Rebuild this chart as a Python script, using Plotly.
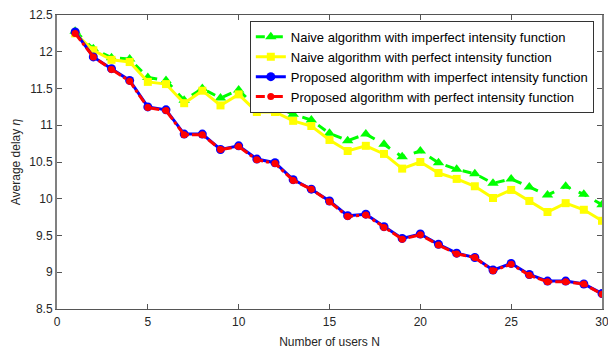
import plotly.graph_objects as go

users = list(range(1, 31))

naive_imperfect = [12.28, 12.04, 11.92, 11.90, 11.65, 11.61, 11.34, 11.50, 11.37, 11.48,
                   11.24, 11.26, 11.15, 11.07, 10.89, 10.79, 10.88, 10.74, 10.57, 10.65,
                   10.49, 10.40, 10.34, 10.21, 10.27, 10.16, 10.05, 10.17, 10.06, 9.92]
naive_perfect = [12.25, 12.02, 11.89, 11.86, 11.59, 11.56, 11.30, 11.47, 11.27, 11.42,
                 11.18, 11.18, 11.06, 10.99, 10.80, 10.65, 10.72, 10.61, 10.41, 10.50,
                 10.35, 10.27, 10.17, 10.01, 10.12, 9.97, 9.82, 9.94, 9.85, 9.70]
proposed_imperfect = [12.27, 11.93, 11.77, 11.61, 11.25, 11.21, 10.88, 10.88, 10.67, 10.72,
                      10.54, 10.49, 10.26, 10.13, 9.97, 9.77, 9.79, 9.62, 9.46, 9.52,
                      9.38, 9.26, 9.20, 9.03, 9.12, 8.97, 8.88, 8.88, 8.84, 8.71]
proposed_perfect = [12.25, 11.93, 11.76, 11.60, 11.24, 11.20, 10.87, 10.87, 10.67, 10.71,
                    10.53, 10.48, 10.25, 10.13, 9.96, 9.76, 9.78, 9.61, 9.45, 9.51,
                    9.37, 9.25, 9.20, 9.02, 9.11, 8.96, 8.87, 8.87, 8.84, 8.70]

x_ticks = [0, 5, 10, 15, 20, 25, 30]
y_ticks = [8.5, 9, 9.5, 10, 10.5, 11, 11.5, 12, 12.5]

fig = go.Figure()
fig.add_trace(go.Scatter(
    x=users, y=naive_imperfect, mode="lines+markers",
    name="Naive algorithm with imperfect intensity function",
    line=dict(color="#00ff00", width=3, dash="dash"),
    marker=dict(symbol="triangle-up", size=10, color="#00ff00")))
fig.add_trace(go.Scatter(
    x=users, y=naive_perfect, mode="lines+markers",
    name="Naive algorithm with perfect intensity function",
    line=dict(color="#ffff00", width=3),
    marker=dict(symbol="square", size=8, color="#ffff00")))
fig.add_trace(go.Scatter(
    x=users, y=proposed_imperfect, mode="lines+markers",
    name="Proposed algorithm with imperfect intensity function",
    line=dict(color="#0000ff", width=3),
    marker=dict(symbol="circle", size=9, color="#0000ff")))
fig.add_trace(go.Scatter(
    x=users, y=proposed_perfect, mode="lines+markers",
    name="Proposed algorithm with perfect intensity function",
    line=dict(color="#ff0000", width=3, dash="dashdot"),
    marker=dict(symbol="circle", size=7, color="#ff0000")))

axis_font = dict(family="Liberation Sans, Arial, sans-serif", size=12, color="#262626")

fig.update_layout(
    width=608, height=349,
    margin=dict(l=57, r=6, t=15, b=40),
    paper_bgcolor="white", plot_bgcolor="white",
    font=axis_font,
    showlegend=True,
    legend=dict(
        x=0.985, y=0.98, xanchor="right", yanchor="top",
        bgcolor="white", bordercolor="#333333", borderwidth=1,
        font=dict(family="Liberation Sans, Arial, sans-serif", size=13, color="#000000"),
        itemwidth=30, tracegroupgap=0,
    ),
    xaxis=dict(
        range=[0, 30], tickvals=x_ticks, ticks="inside", ticklen=5,
        showline=True, linecolor="#555555", linewidth=1, mirror="ticks",
        tickcolor="#555555", showgrid=False, zeroline=False, automargin=False,
        ticklabeloverflow="allow",
        title=dict(text="Number of users N", standoff=9, font=dict(size=12)),
        tickfont=dict(size=12), ticklabelstandoff=2,
    ),
    yaxis=dict(
        range=[8.5, 12.5], tickvals=y_ticks, ticktext=[f"{v:g}" for v in y_ticks],
        ticks="inside", ticklen=5,
        showline=True, linecolor="#808080", linewidth=2, mirror="ticks",
        tickcolor="#555555", showgrid=False, zeroline=False, automargin=False,
        ticklabeloverflow="allow",
        title=dict(text="Average delay <i>η</i>", standoff=6, font=dict(size=12)),
        tickfont=dict(size=12),
    ),
)

fig.write_html("out.html")
